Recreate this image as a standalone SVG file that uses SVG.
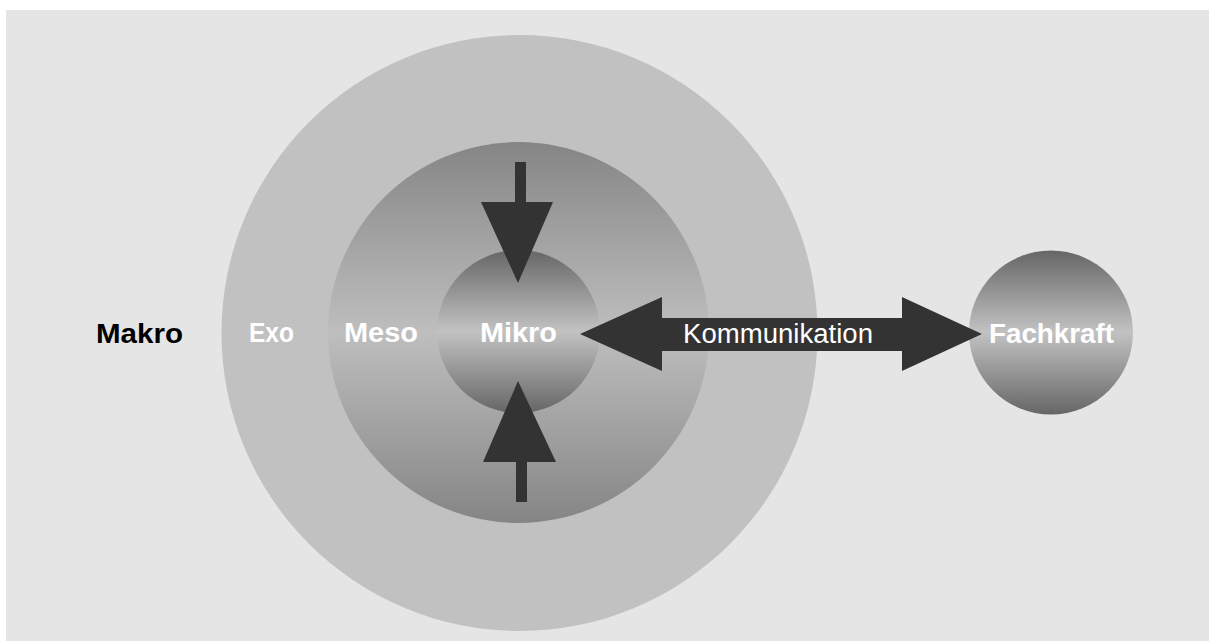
<svg xmlns="http://www.w3.org/2000/svg" width="1209" height="641" viewBox="0 0 1209 641">
<defs>
<linearGradient id="gMeso" x1="0" y1="0" x2="0" y2="1">
<stop offset="0" stop-color="#858585"/>
<stop offset="0.5" stop-color="#bebebe"/>
<stop offset="1" stop-color="#858585"/>
</linearGradient>
<linearGradient id="gMikro" x1="0" y1="0" x2="0" y2="1">
<stop offset="0" stop-color="#666666"/>
<stop offset="0.5" stop-color="#c2c2c2"/>
<stop offset="1" stop-color="#666666"/>
</linearGradient>
<style>
.lbl{font-family:"Liberation Sans",Arial,sans-serif;font-weight:bold;font-size:28px;fill:#ffffff}
.dark{fill:#000000}
.arrow{fill:#333333}
.comm{font-family:"Liberation Sans",Arial,sans-serif;font-size:27px;fill:#ffffff}
</style>
</defs>
<rect x="6" y="10" width="1203" height="631" fill="#e5e5e5"/>
<g id="makro">
<text class="lbl dark" x="96" y="343" textLength="87" lengthAdjust="spacingAndGlyphs">Makro</text>
</g>
<g id="exo">
<circle cx="519.5" cy="333" r="298" fill="#c1c1c1"/>
<text class="lbl" x="249" y="342" textLength="45" lengthAdjust="spacingAndGlyphs">Exo</text>
</g>
<g id="meso">
<circle cx="518.5" cy="332.5" r="190.5" fill="url(#gMeso)"/>
<text class="lbl" x="344" y="342" textLength="74" lengthAdjust="spacingAndGlyphs">Meso</text>
</g>
<g id="mikro">
<circle cx="518.5" cy="331.5" r="81.5" fill="url(#gMikro)"/>
<text class="lbl" x="480" y="342" textLength="77" lengthAdjust="spacingAndGlyphs">Mikro</text>
</g>
<g id="fachkraft">
<circle cx="1051" cy="332.5" r="82" fill="url(#gMikro)"/>
<text class="lbl" x="989" y="343" textLength="125" lengthAdjust="spacingAndGlyphs">Fachkraft</text>
</g>
<g id="connectors">
<polygon class="arrow" points="515,162 526,162 526,202 553,202 518,283 481,202 515,202"/>
<polygon class="arrow" points="516,502 527,502 527,462 556,462 518,381 483,462 516,462"/>
<polygon class="arrow" points="580,334 662,297 662,318 902,318 902,297 982,334 902,371 902,351 662,351 662,371"/>
<text class="comm" x="683" y="343" textLength="190" lengthAdjust="spacingAndGlyphs">Kommunikation</text>
</g>
</svg>
